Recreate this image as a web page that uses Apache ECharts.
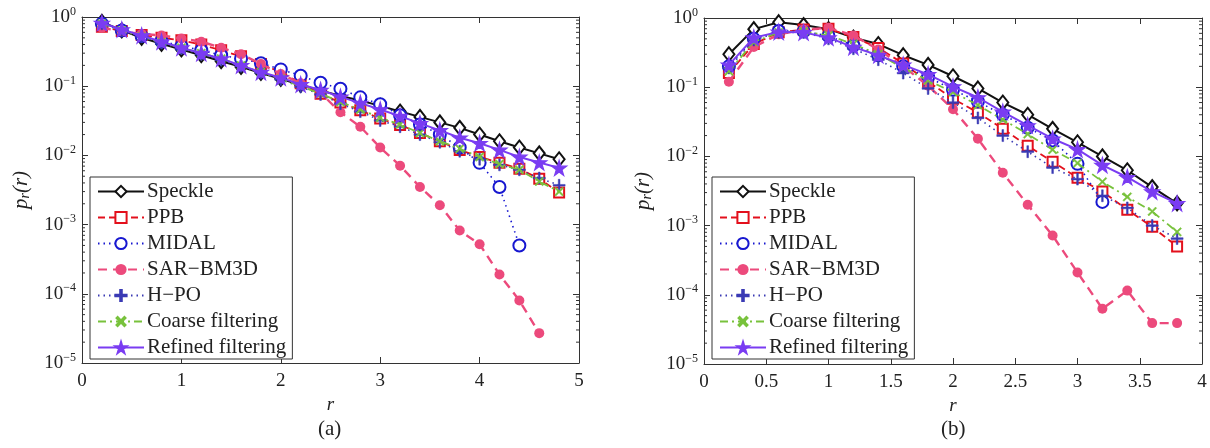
<!DOCTYPE html>
<html>
<head>
<meta charset="utf-8">
<script src="https://cdn.jsdelivr.net/npm/echarts@6/dist/echarts.min.js"></script>
<style>
  html, body { margin: 0; padding: 0; background: #fff; }
  #chart { width: 1210px; height: 448px; }
</style>
</head>
<body>
<div id="chart"></div>
<script>
// r values of the two panels
const rA = [0.2, 0.4, 0.6, 0.8, 1.0, 1.2, 1.4, 1.6, 1.8, 2.0, 2.2, 2.4, 2.6, 2.8, 3.0, 3.2, 3.4, 3.6, 3.8, 4.0, 4.2, 4.4, 4.6, 4.8];
const rB = [0.2, 0.4, 0.6, 0.8, 1.0, 1.2, 1.4, 1.6, 1.8, 2.0, 2.2, 2.4, 2.6, 2.8, 3.0, 3.2, 3.4, 3.6, 3.8];

// panel (a)
const speckleA = [0.85, 0.64, 0.50, 0.41, 0.34, 0.28, 0.23, 0.19, 0.155, 0.128, 0.104, 0.087, 0.072, 0.062, 0.052, 0.043, 0.036, 0.030, 0.025, 0.020, 0.016, 0.013, 0.0107, 0.0088];
const ppbA = [0.72, 0.63, 0.55, 0.50, 0.46, 0.40, 0.33, 0.27, 0.21, 0.16, 0.11, 0.078, 0.058, 0.045, 0.034, 0.0275, 0.021, 0.016, 0.012, 0.0095, 0.0078, 0.0064, 0.0046, 0.0029];
const midalA = [0.80, 0.64, 0.53, 0.45, 0.38, 0.33, 0.28, 0.25, 0.215, 0.175, 0.142, 0.112, 0.092, 0.069, 0.055, 0.038, 0.028, 0.020, 0.013, 0.0078, 0.0035, 0.0005];
const sarA = [0.70, 0.62, 0.57, 0.54, 0.49, 0.44, 0.36, 0.29, 0.21, 0.15, 0.11, 0.08, 0.042, 0.026, 0.013, 0.0071, 0.0035, 0.0019, 0.00082, 0.00052, 0.00019, 0.00008, 0.000027];
const hpoA = [0.80, 0.64, 0.52, 0.42, 0.35, 0.29, 0.24, 0.195, 0.155, 0.125, 0.098, 0.076, 0.056, 0.043, 0.032, 0.026, 0.020, 0.0155, 0.0115, 0.0088, 0.0073, 0.0062, 0.0047, 0.0037];
const coarseA = [0.80, 0.64, 0.52, 0.43, 0.36, 0.30, 0.25, 0.20, 0.16, 0.128, 0.10, 0.078, 0.059, 0.046, 0.035, 0.028, 0.021, 0.016, 0.0125, 0.0095, 0.0075, 0.0062, 0.0042, 0.003];
const refinedA = [0.82, 0.66, 0.54, 0.44, 0.36, 0.30, 0.25, 0.20, 0.16, 0.133, 0.106, 0.088, 0.070, 0.057, 0.046, 0.037, 0.029, 0.023, 0.018, 0.015, 0.012, 0.0095, 0.0079, 0.0066];

// panel (b)
const speckleB = [0.30, 0.69, 0.87, 0.79, 0.69, 0.52, 0.42, 0.29, 0.21, 0.144, 0.096, 0.060, 0.040, 0.025, 0.016, 0.010, 0.0063, 0.0036, 0.0021];
const ppbB = [0.16, 0.42, 0.62, 0.68, 0.70, 0.53, 0.37, 0.22, 0.12, 0.068, 0.043, 0.025, 0.0142, 0.0084, 0.0049, 0.0031, 0.0017, 0.00096, 0.0005];
const midalB = [0.20, 0.50, 0.65, 0.64, 0.55, 0.40, 0.29, 0.20, 0.14, 0.092, 0.062, 0.040, 0.026, 0.017, 0.0078, 0.0022];
const sarB = [0.12, 0.38, 0.58, 0.68, 0.72, 0.56, 0.35, 0.20, 0.105, 0.048, 0.018, 0.0058, 0.002, 0.00072, 0.00021, 0.000063, 0.000115, 0.000039, 0.000039];
const hpoB = [0.19, 0.48, 0.62, 0.62, 0.50, 0.36, 0.25, 0.16, 0.096, 0.06, 0.036, 0.020, 0.0117, 0.0069, 0.0047, 0.0027, 0.0018, 0.0010, 0.00065];
const coarseB = [0.17, 0.45, 0.62, 0.64, 0.56, 0.42, 0.30, 0.19, 0.125, 0.085, 0.055, 0.034, 0.021, 0.0125, 0.008, 0.0043, 0.0026, 0.0016, 0.00081];
const refinedB = [0.21, 0.52, 0.63, 0.62, 0.52, 0.38, 0.29, 0.21, 0.153, 0.102, 0.071, 0.044, 0.028, 0.018, 0.0126, 0.0075, 0.005, 0.0031, 0.0021];

const names = ['Speckle', 'PPB', 'MIDAL', 'SAR\u2212BM3D', 'H\u2212PO', 'Coarse filtering', 'Refined filtering'];
const captions = ['(a)', '(b)'];
const minorMant = [2, 3, 4, 5, 6, 7, 8, 9];
const decades = [-5, -4, -3, -2, -1];

const FONT = 'Liberation Serif';
const AX = '#333';

const STAR = 'path://M50,0 L61,35 L98,35 L68,57 L79,91 L50,70 L21,91 L32,57 L2,35 L39,35 Z';
const PLUS = 'path://M43,0 H57 V43 H100 V57 H57 V100 H43 V57 H0 V43 H43 Z';

// style of each method (same order as names)
const styles = [
  { color: '#111', type: 'solid', width: 2, symbol: 'emptyDiamond', size: [11, 14], border: 2 },
  { color: '#e3101c', type: [7, 4], width: 1.8, symbol: 'emptyRect', size: 10, border: 2 },
  { color: '#1717d0', type: [1.5, 4], width: 1.6, symbol: 'emptyCircle', size: 12, border: 2 },
  { color: '#ec4a7c', type: [9, 6], width: 2.4, symbol: 'circle', size: 10, border: 0 },
  { color: '#3a3ab4', type: [1.5, 4], width: 1.6, symbol: PLUS, size: 12, border: 0.5 },
  { color: '#78c23c', type: [8, 4, 2, 4], width: 1.8, symbol: PLUS, size: 11, rotate: 45, border: 0.5 },
  { color: '#7a3cf2', type: 'solid', width: 2, symbol: STAR, size: 15, border: 1.2 }
];

function pairs(xs, ys) {
  return ys.map((v, i) => [xs[i], v]);
}

function lineSeries(idx, xs, ys, axis) {
  const s = styles[idx];
  return {
    name: names[idx],
    type: 'line',
    xAxisIndex: axis,
    yAxisIndex: axis,
    data: pairs(xs, ys),
    symbol: s.symbol,
    symbolSize: s.size,
    symbolRotate: s.rotate || 0,
    showAllSymbol: true,
    lineStyle: { color: s.color, width: s.width, type: s.type },
    itemStyle: { color: s.color, borderColor: s.color, borderWidth: s.border },
    z: 3 + idx
  };
}

const minorVals = [];
decades.forEach(e => minorMant.forEach(m => minorVals.push(m * Math.pow(10, e))));

function minorTicks(axis, xmin, xmax) {
  return {
    type: 'custom',
    xAxisIndex: axis,
    yAxisIndex: axis,
    silent: true,
    clip: false,
    data: minorVals.map(v => [xmin, v]),
    renderItem: function (params, api) {
      const v = api.value(1);
      const l = api.coord([xmin, v]);
      const r = api.coord([xmax, v]);
      const st = { stroke: AX, lineWidth: 1 };
      return {
        type: 'group',
        children: [
          { type: 'line', shape: { x1: l[0], y1: l[1], x2: l[0] + 3, y2: l[1] }, style: st },
          { type: 'line', shape: { x1: r[0], y1: r[1], x2: r[0] - 3, y2: r[1] }, style: st }
        ]
      };
    },
    z: 1
  };
}

function yLabel(v) {
  const e = Math.round(Math.log10(v));
  return '{b|10}{s|' + (e < 0 ? '\u2212' + (-e) : e) + '}';
}

const labelRich = {
  b: { fontFamily: FONT, fontSize: 19, color: '#222' },
  s: { fontFamily: FONT, fontSize: 12, color: '#222', padding: [0, 0, 11, 0] }
};

function xAxes(max, interval, gridIdx) {
  const common = {
    type: 'value', gridIndex: gridIdx, min: 0, max: max, interval: interval,
    axisLine: { show: true, onZero: false, lineStyle: { color: AX, width: 1 } },
    axisTick: { show: true, inside: true, length: 6, lineStyle: { color: AX } },
    splitLine: { show: false }
  };
  return [
    Object.assign({}, common, {
      position: 'bottom',
      name: 'r', nameLocation: 'middle', nameGap: 31,
      nameTextStyle: { fontFamily: FONT, fontStyle: 'italic', fontSize: 19, color: '#222' },
      axisLabel: { show: true, margin: 9, fontFamily: FONT, fontSize: 19, color: '#222' }
    }),
    Object.assign({}, common, { position: 'top', axisLabel: { show: false } })
  ];
}

function yAxes(gridIdx) {
  const common = {
    type: 'log', logBase: 10, gridIndex: gridIdx, min: 1e-5, max: 1,
    axisLine: { show: true, onZero: false, lineStyle: { color: AX, width: 1 } },
    axisTick: { show: true, inside: true, length: 6, lineStyle: { color: AX } },
    splitLine: { show: false }
  };
  return [
    Object.assign({}, common, {
      position: 'left',
      name: '{i|p}{sub|r}{i|(r)}', nameLocation: 'middle', nameGap: 50, nameRotate: 90,
      nameTextStyle: {
        rich: {
          i: { fontFamily: FONT, fontStyle: 'italic', fontSize: 21, color: '#222' },
          sub: { fontFamily: FONT, fontStyle: 'italic', fontSize: 14, color: '#222', padding: [8, 0, 0, 0] }
        }
      },
      axisLabel: { show: true, margin: 6, formatter: yLabel, rich: labelRich }
    }),
    Object.assign({}, common, { position: 'right', axisLabel: { show: false } })
  ];
}

function legend(left) {
  return {
    left: left, top: 177, orient: 'vertical',
    data: names,
    itemWidth: 46, itemHeight: 14, itemGap: 5,
    padding: [4, 6, 1, 7],
    borderColor: AX, borderWidth: 1, backgroundColor: '#fff',
    selectedMode: false,
    textStyle: { fontFamily: FONT, fontSize: 21, lineHeight: 20, color: '#222', padding: [0, 0, 0, -2] }
  };
}

const chart = echarts.init(document.getElementById('chart'), null, { renderer: 'canvas' });

const seriesA = [speckleA, ppbA, midalA, sarA, hpoA, coarseA, refinedA].map((ys, i) => lineSeries(i, rA, ys, 0));
const seriesB = [speckleB, ppbB, midalB, sarB, hpoB, coarseB, refinedB].map((ys, i) => lineSeries(i, rB, ys, 2));

const option = {
  animation: false,
  backgroundColor: '#fff',
  grid: [
    { left: 82, top: 17, width: 497, height: 346 },
    { left: 704, top: 18, width: 498, height: 346 }
  ],
  xAxis: xAxes(5, 1, 0).concat(xAxes(4, 0.5, 1)),
  yAxis: yAxes(0).concat(yAxes(1)),
  legend: [legend(90), legend(712)],
  graphic: [
    { type: 'text', left: 318, top: 419, style: { text: captions[0], font: '21px "Liberation Serif"', fill: '#222' } },
    { type: 'text', left: 941, top: 419, style: { text: captions[1], font: '21px "Liberation Serif"', fill: '#222' } }
  ],
  series: [
    minorTicks(0, 0, 5),
    minorTicks(2, 0, 4)
  ].concat(seriesA, seriesB)
};

chart.setOption(option);
</script>
</body>
</html>
